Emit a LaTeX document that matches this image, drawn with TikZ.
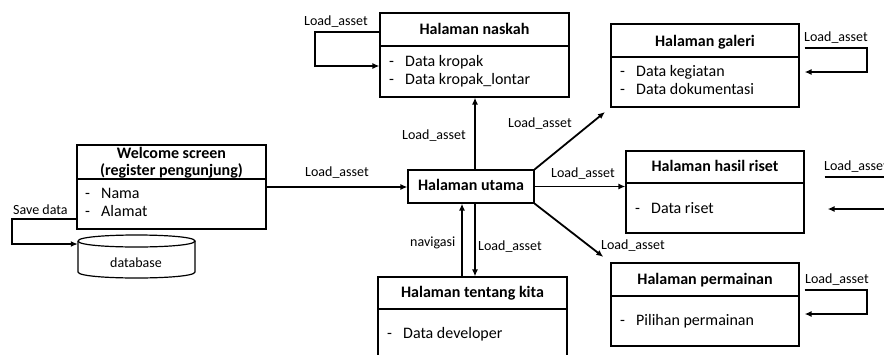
\documentclass[tikz,border=0pt]{standalone}
\usepackage{fontspec}
\setmainfont{Carlito}
\usetikzlibrary{arrows.meta}
\begin{document}
\begin{tikzpicture}[x=1pt,y=-1pt,
  box/.style={draw,line width=1.2pt,inner sep=0,rectangle},
  sep/.style={line width=1.2pt},
  ttl/.style={font=\fontsize{16}{19}\selectfont\bfseries,anchor=base,inner sep=0},
  itm/.style={font=\fontsize{16}{19}\selectfont,anchor=base west,inner sep=0},
  lbl/.style={font=\fontsize{14}{16}\selectfont,anchor=base west,inner sep=0},
  arr/.style={line width=1.8pt,-{Latex[length=7pt,width=6pt]}},
  ln/.style={line width=1.8pt}]
\useasboundingbox (0,0) rectangle (884,354);
\clip (0,0) rectangle (884,354);

% ---------- Welcome screen ----------
\node[box,minimum width=189,minimum height=84] (wel) at (171.5,187) {};
\draw[sep] (wel.west |- 0,179) -- (wel.east |- 0,179);
\node[ttl] (welt1) at (171.5,158.3) {Welcome screen};
\node[ttl] (welt2) at (171.5,175.7) {(register pengunjung)};
\node[itm] (weli1) at (85,198.3) {\makebox[16pt][l]{-}Nama};
\node[itm] (weli2) at (85,216.7) {\makebox[16pt][l]{-}Alamat};

% ---------- database ----------
\node[inner sep=0,minimum width=117,minimum height=43] (db) at (136.5,256.5) {};
\draw[sep] (78,241) .. controls (78,233) and (195,233) .. (195,241)
  .. controls (195,249) and (78,249) .. (78,241);
\draw[sep] (78,241) -- (78,272) .. controls (78,280) and (195,280) .. (195,272) -- (195,241);
\node[lbl] (dbt) at (110,267) {database};

% ---------- Halaman naskah ----------
\node[box,minimum width=189,minimum height=84] (nas) at (474.5,55) {};
\draw[sep] (nas.west |- 0,46) -- (nas.east |- 0,46);
\node[ttl] (nast) at (474.5,34) {Halaman naskah};
\node[itm] (nasi1) at (389,66) {\makebox[16pt][l]{-}Data kropak};
\node[itm] (nasi2) at (389,84) {\makebox[16pt][l]{-}Data kropak\_lontar};

% ---------- Halaman galeri ----------
\node[box,minimum width=188,minimum height=83] (gal) at (705,65.5) {};
\draw[sep] (gal.west |- 0,57) -- (gal.east |- 0,57);
\node[ttl] (galt) at (705,46) {Halaman galeri};
\node[itm] (gali1) at (620,76.7) {\makebox[16pt][l]{-}Data kegiatan};
\node[itm] (gali2) at (620,94) {\makebox[16pt][l]{-}Data dokumentasi};

% ---------- Halaman utama ----------
\node[box,minimum width=126,minimum height=33] (uta) at (471,186.5) {};
\node[ttl] (utat) at (471,190.7) {Halaman utama};

% ---------- Halaman hasil riset ----------
\node[box,minimum width=178,minimum height=82] (ris) at (715,192) {};
\draw[sep] (ris.west |- 0,183) -- (ris.east |- 0,183);
\node[ttl] (rist) at (715,171.7) {Halaman hasil riset};
\node[itm] (risi1) at (635,213.3) {\makebox[16pt][l]{-}Data riset};

% ---------- Halaman tentang kita ----------
\node[box,minimum width=189,minimum height=83] (ten) at (472.5,318.5) {};
\draw[sep] (ten.west |- 0,309) -- (ten.east |- 0,309);
\node[ttl] (tent) at (472.5,297.3) {Halaman tentang kita};
\node[itm] (teni1) at (387,338.3) {\makebox[16pt][l]{-}Data developer};

% ---------- Halaman permainan ----------
\node[box,minimum width=188,minimum height=83] (per) at (705,304.5) {};
\draw[sep] (per.west |- 0,296) -- (per.east |- 0,296);
\node[ttl] (pert) at (705,284) {Halaman permainan};
\node[itm] (peri1) at (620,325) {\makebox[16pt][l]{-}Pilihan permainan};

% ---------- connectors ----------
\draw[arr] (wel.west |- 0,219) -- (12,219) -- (12,244) -- (db.west |- 0,244);
\node[lbl] (lsave) at (13,214.5) {Save data};

\draw[arr] (wel.east |- 0,187) -- (uta.west |- 0,187);
\node[lbl] (l1) at (305,176) {Load\_asset};

\draw[arr] (uta.north -| 475,0) -- (nas.south -| 475,0);
\node[lbl] (l2) at (402,139.5) {Load\_asset};

\draw[arr,shorten >=7pt] (uta.north east) -- (gal.south west);
\node[lbl] (l3) at (508,127.5) {Load\_asset};

\draw[arr] (uta.east) -- (ris.west |- uta.east);
\node[lbl] (l4) at (551,177) {Load\_asset};

\draw[arr,shorten >=9pt] (uta.south east) -- (per.north west);
\node[lbl] (l5) at (601,249) {Load\_asset};

\draw[arr] (ten.north -| 462,0) -- (uta.south -| 462,0);
\node[lbl] (lnav) at (410,246) {navigasi};
\draw[arr] (uta.south -| 475,0) -- (ten.north -| 475,0);
\node[lbl] (l6) at (478,250) {Load\_asset};

% self loops
\draw[arr] (nas.west |- 0,32) -- (315,32) -- (315,66) -- (nas.west |- 0,66);
\node[lbl] (l7) at (304,25) {Load\_asset};

\draw[arr,shorten <=5pt,shorten >=5pt] (gal.east |- 0,48) -- (867,48) -- (867,72) -- (gal.east |- 0,72);
\node[lbl] (l8) at (804,41) {Load\_asset};

\draw[arr,shorten <=5pt,shorten >=5pt] (per.east |- 0,290) -- (867,290) -- (867,314) -- (per.east |- 0,314);
\node[lbl] (l9) at (805,283) {Load\_asset};

\draw[arr,shorten <=20pt,shorten >=23pt] (ris.east |- 0,177) -- (892,177) -- (892,209) -- (ris.east |- 0,209);
\node[lbl] (l10) at (824,170) {Load\_asset};
\end{tikzpicture}
\end{document}
